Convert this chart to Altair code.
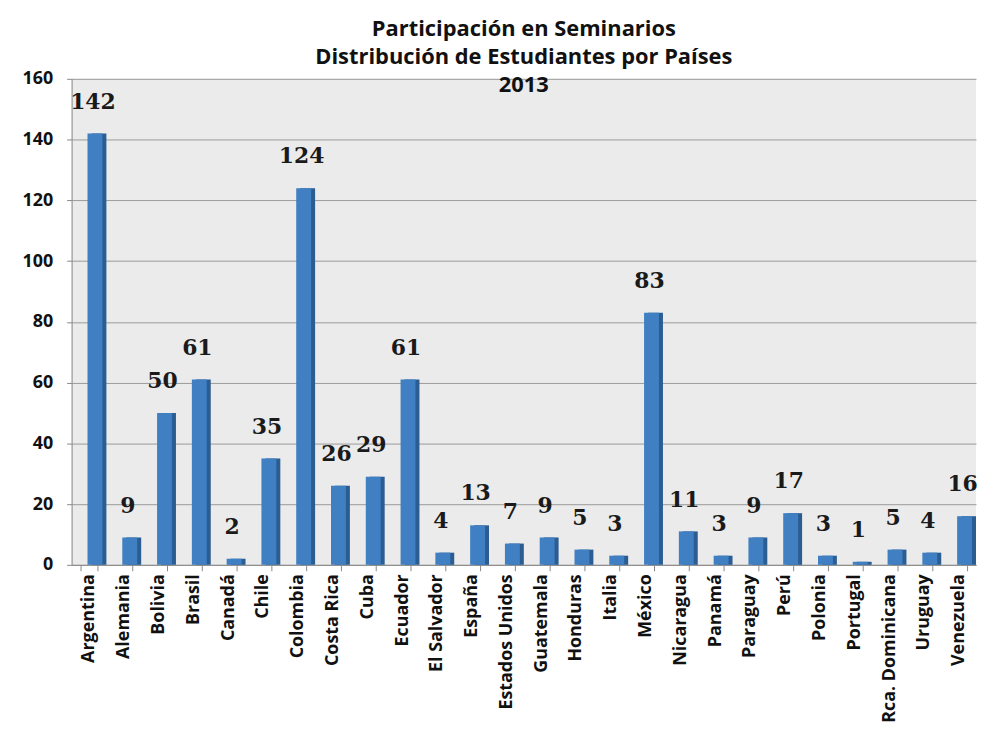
import altair as alt
import pandas as pd

countries = ["Argentina", "Alemania", "Bolivia", "Brasil", "Canadá", "Chile", "Colombia",
             "Costa Rica", "Cuba", "Ecuador", "El Salvador", "España", "Estados Unidos",
             "Guatemala", "Honduras", "Italia", "México", "Nicaragua", "Panamá", "Paraguay",
             "Perú", "Polonia", "Portugal", "Rca. Dominicana", "Uruguay", "Venezuela"]
students = [142, 9, 50, 61, 2, 35, 124, 26, 29, 61, 4, 13, 7, 9, 5, 3, 83, 11, 3, 9,
            17, 3, 1, 5, 4, 16]
title_lines = ["Participación en Seminarios", "Distribución de Estudiantes por Países", "2013"]

df = pd.DataFrame({"pais": countries, "n": students})

x = alt.X("pais:N", sort=countries, title=None,
          scale=alt.Scale(paddingInner=0.5, paddingOuter=0.25),
          axis=alt.Axis(labelAngle=-90, labelFont="Open Sans", labelFontWeight="bold",
                        labelFontSize=18, labelColor="#111111", tickBand="extent",
                        tickSize=6, tickColor="#888888", domainColor="#888888",
                        labelPadding=3, labelLimit=300))
y = alt.Y("n:Q", title=None,
          scale=alt.Scale(domain=[0, 160]),
          axis=alt.Axis(values=list(range(0, 161, 20)), labelFont="Open Sans",
                        labelFontWeight="bold", labelFontSize=18, labelColor="#111111",
                        tickSize=5, tickColor="#888888", domainColor="#888888",
                        gridColor="#9a9a9a", labelPadding=14))

side = alt.Chart(df).mark_bar(color="#2b5c92", xOffset=10, width=15).encode(x=x, y=y)
front = alt.Chart(df).mark_bar(color="#3f7fc2", xOffset=6, width=15).encode(x=x, y=y)
labels = alt.Chart(df).mark_text(font="DejaVu Serif", fontWeight="bold", fontSize=22,
                                 baseline="alphabetic", dy=-25, dx=4,
                                 color="#1a1a1a").encode(
    x=alt.X("pais:N", sort=countries), y="n:Q", text="n:Q")

chart = (side + front + labels).properties(
    width=910, height=489,
    title=alt.TitleParams(
        title_lines, font="Open Sans", fontSize=22, fontWeight="bold", color="#111111",
        lineHeight=28, offset=-27, anchor="middle"),
    autosize=alt.AutoSizeParams(type="none"),
    padding={"left": 64, "top": 69, "right": 3, "bottom": 174},
).configure_view(fill="#ebebeb", stroke=None)

chart.save("out.html", embed_options={"renderer": "svg", "actions": False})
